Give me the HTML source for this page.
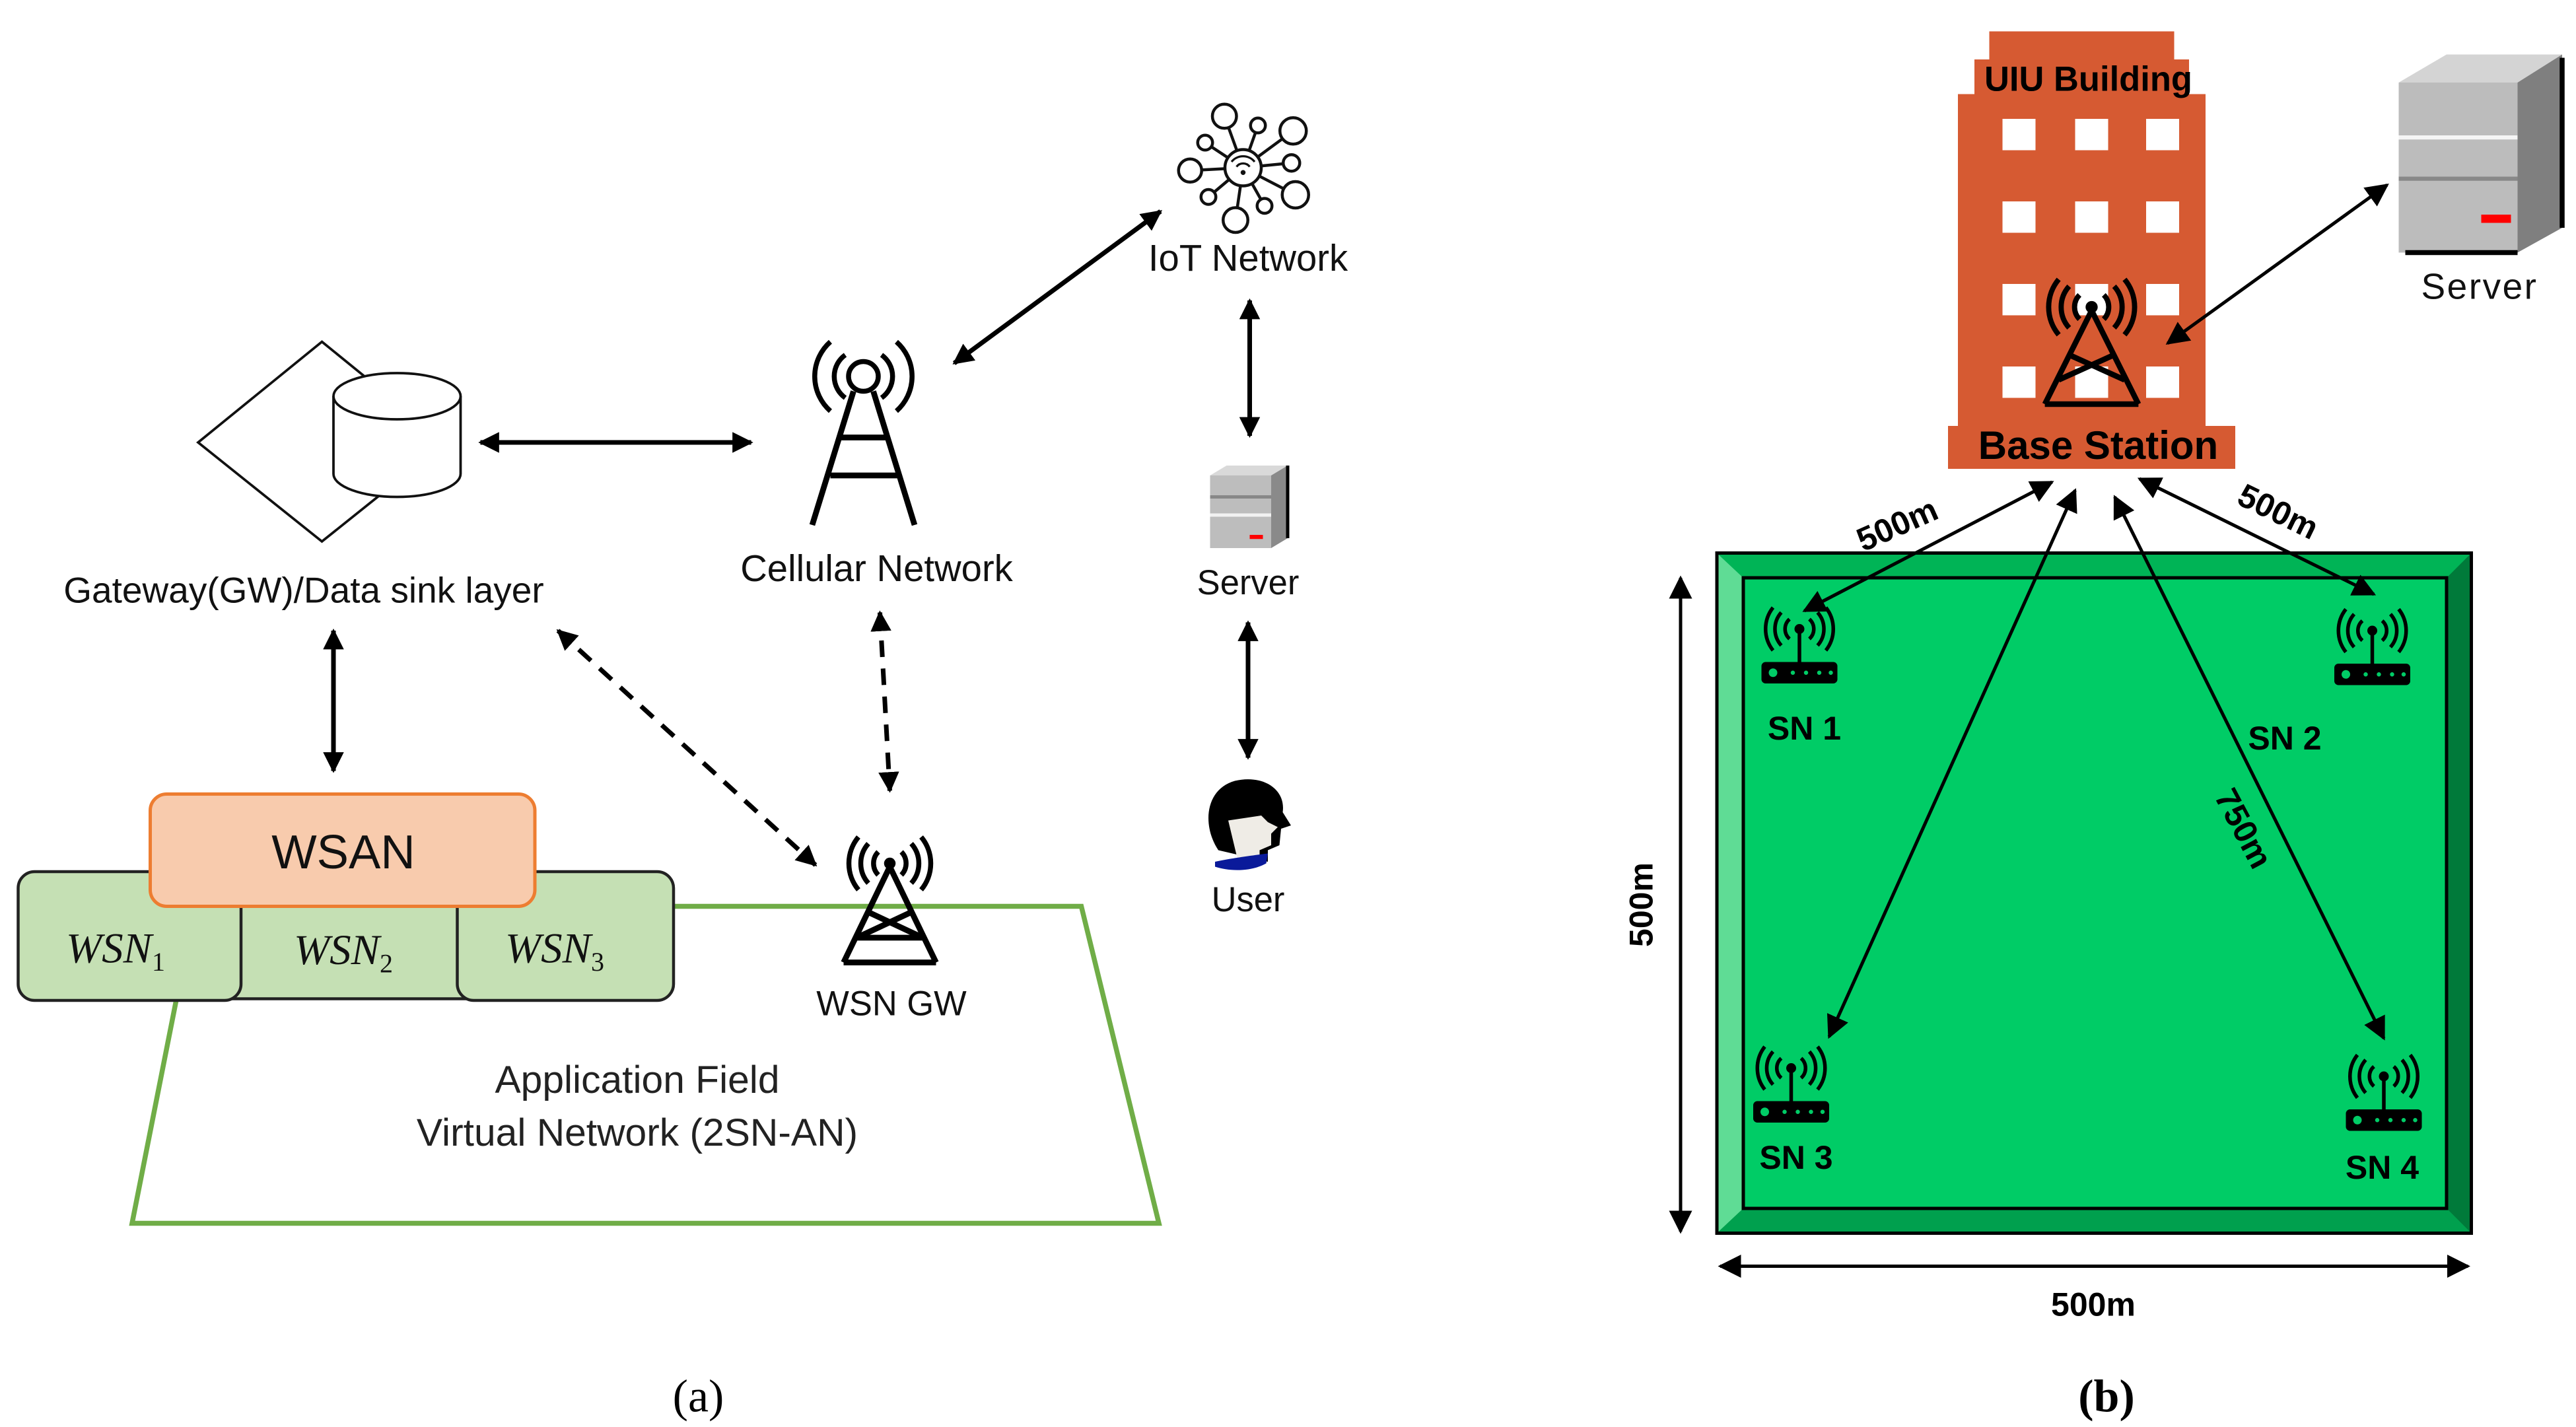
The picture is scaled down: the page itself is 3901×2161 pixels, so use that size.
<!DOCTYPE html>
<html><head><meta charset="utf-8"><style>
html,body{margin:0;padding:0;background:#fff}
svg{display:block}
text{font-family:"Liberation Sans",sans-serif}
</style></head><body>
<svg width="3901" height="2161" viewBox="0 0 1560.4 864.4" xmlns="http://www.w3.org/2000/svg">
<defs>
<marker id="ah" viewBox="0 0 10 10" refX="9" refY="5" markerWidth="4.5" markerHeight="4.5" orient="auto-start-reverse" markerUnits="strokeWidth"><path d="M0,0 L10,5 L0,10 z" fill="#000"/></marker>
<marker id="ah2" viewBox="0 0 10 10" refX="9" refY="5" markerWidth="7" markerHeight="7" orient="auto-start-reverse" markerUnits="strokeWidth"><path d="M0,0 L10,5 L0,10 z" fill="#000"/></marker>
<g id="router">
<path d="M-6,-6 A8,8 0 0 0 -6,6 M6,-6 A8,8 0 0 1 6,6" fill="none" stroke="#000" stroke-width="2.2"/>
<path d="M-11,-10 A15,15 0 0 0 -11,10 M11,-10 A15,15 0 0 1 11,10" fill="none" stroke="#000" stroke-width="2.2"/>
<path d="M-16,-13 A21,21 0 0 0 -16,13 M16,-13 A21,21 0 0 1 16,13" fill="none" stroke="#000" stroke-width="2.2"/>
<circle cx="0" cy="0" r="3" fill="#000"/>
<line x1="0" y1="0" x2="0" y2="20" stroke="#000" stroke-width="2.2"/>
<rect x="-23" y="20" width="46" height="13" rx="2.5" fill="#000"/>
<circle cx="-16" cy="26.5" r="2.6" fill="#00cc66"/>
<circle cx="-4" cy="26.5" r="1.3" fill="#00cc66"/><circle cx="4" cy="26.5" r="1.3" fill="#00cc66"/><circle cx="12" cy="26.5" r="1.3" fill="#00cc66"/><circle cx="19" cy="26.5" r="1.3" fill="#00cc66"/>
</g>
<g id="tower">
<path d="M-7,-7 A10,10 0 0 0 -7,7 M7,-7 A10,10 0 0 1 7,7" fill="none" stroke="#000" stroke-width="3"/>
<path d="M-13,-12 A18,18 0 0 0 -13,12 M13,-12 A18,18 0 0 1 13,12" fill="none" stroke="#000" stroke-width="3"/>
<path d="M-19,-16 A25,25 0 0 0 -19,16 M19,-16 A25,25 0 0 1 19,16" fill="none" stroke="#000" stroke-width="3"/>
<circle cx="0" cy="0" r="3.5" fill="#000"/>
<path d="M0,2 L-28,60 M0,2 L28,60 M-12,30 L20,45 M12,30 L-20,45 M-20,45 L20,45 M-28,60 L28,60" fill="none" stroke="#000" stroke-width="3.5"/>
</g>
</defs>

<!-- ============ (a) ============ -->
<polygon points="118,549 655,549 702,741 80,741" fill="#fff" stroke="#70ad47" stroke-width="3"/>
<text x="386" y="662" font-size="23.5" text-anchor="middle" fill="#222">Application Field</text>
<text x="386" y="694" font-size="23.5" text-anchor="middle" fill="#222">Virtual Network (2SN-AN)</text>

<rect x="120" y="528" width="180" height="77" rx="10" fill="#c5e0b4" stroke="#222" stroke-width="1.8"/>
<rect x="11" y="528" width="135" height="78" rx="10" fill="#c5e0b4" stroke="#222" stroke-width="1.8"/>
<rect x="277" y="528" width="131" height="78" rx="10" fill="#c5e0b4" stroke="#222" stroke-width="1.8"/>
<rect x="91" y="481" width="233" height="68" rx="10" fill="#f8cbad" stroke="#ed7d31" stroke-width="2"/>
<text x="208" y="526" font-size="29" text-anchor="middle" fill="#111">WSAN</text>
<text x="40" y="583" font-size="26" font-style="italic" fill="#111" style="font-family:'Liberation Serif',serif">WSN<tspan font-size="16" dy="5" font-style="normal">1</tspan></text>
<text x="178" y="584" font-size="26" font-style="italic" fill="#111" style="font-family:'Liberation Serif',serif">WSN<tspan font-size="16" dy="5" font-style="normal">2</tspan></text>
<text x="306" y="583" font-size="26" font-style="italic" fill="#111" style="font-family:'Liberation Serif',serif">WSN<tspan font-size="16" dy="5" font-style="normal">3</tspan></text>

<polygon points="195,207 270,268 195,328 120,268" fill="#fff" stroke="#111" stroke-width="1.5"/>
<path d="M202,240 L202,287 A38.5,14 0 0 0 279,287 L279,240" fill="#fff" stroke="#111" stroke-width="1.5"/>
<ellipse cx="240.5" cy="240" rx="38.5" ry="14" fill="#fff" stroke="#111" stroke-width="1.5"/>
<text x="184" y="365" font-size="22" text-anchor="middle" fill="#111">Gateway(GW)/Data sink layer</text>

<g stroke="#000" fill="none" stroke-width="3">
<circle cx="523" cy="228" r="9"/>
<path d="M512,215 A16,16 0 0 0 512,241 M534,215 A16,16 0 0 1 534,241"/>
<path d="M503,207 A28,28 0 0 0 503,249 M543,207 A28,28 0 0 1 543,249"/>
<path d="M517,237 L492,318 M529,237 L554,318 M508,265 L538,265 M503,288 L544,288" stroke-width="3.5"/>
</g>
<text x="531" y="352" font-size="22.5" text-anchor="middle" fill="#111">Cellular Network</text>

<g stroke="#111" stroke-width="1.8" fill="#fff">
<line x1="753" y1="101.6" x2="741.7" y2="70.4"/><line x1="753" y1="101.6" x2="762" y2="76"/>
<line x1="753" y1="101.6" x2="783.3" y2="79.3"/><line x1="753" y1="101.6" x2="730" y2="86.4"/>
<line x1="753" y1="101.6" x2="720.9" y2="103.3"/><line x1="753" y1="101.6" x2="782.3" y2="98.7"/>
<line x1="753" y1="101.6" x2="784.7" y2="118"/><line x1="753" y1="101.6" x2="732" y2="119.3"/>
<line x1="753" y1="101.6" x2="766" y2="124.7"/><line x1="753" y1="101.6" x2="748.4" y2="133.3"/>
<circle cx="753" cy="101.6" r="11"/>
<circle cx="741.7" cy="70.4" r="7.3"/><circle cx="762" cy="76" r="4.5"/><circle cx="783.3" cy="79.3" r="8"/>
<circle cx="730" cy="86.4" r="4.5"/><circle cx="720.9" cy="103.3" r="7"/><circle cx="782.3" cy="98.7" r="5"/>
<circle cx="784.7" cy="118" r="8"/><circle cx="732" cy="119.3" r="4.5"/><circle cx="766" cy="124.7" r="4.5"/>
<circle cx="748.4" cy="133.3" r="7.5"/>
</g>
<path d="M746,98 A9,9 0 0 1 760,98 M749,101 A5,5 0 0 1 757,101" stroke="#111" stroke-width="1.3" fill="none"/>
<circle cx="753" cy="104.5" r="1.5" fill="#111"/>
<text x="756" y="164" font-size="22.5" text-anchor="middle" fill="#111">IoT Network</text>

<polygon points="733,288 743,282 780,282 770,288" fill="#d9d9d9"/>
<rect x="733" y="288" width="37" height="44" fill="#bdbdbd"/>
<polygon points="770,288 780,282 780,326 770,332" fill="#8a8a8a"/>
<line x1="780" y1="282" x2="780" y2="326" stroke="#000" stroke-width="2"/>
<rect x="733" y="300" width="37" height="2" fill="#888"/>
<rect x="733" y="311" width="37" height="2" fill="#f2f2f2"/>
<rect x="757" y="324" width="8" height="2.5" fill="#f00"/>
<text x="756" y="360" font-size="21" text-anchor="middle" fill="#111">Server</text>

<path d="M738,515 C728,500 730,478 748,473 C765,469 779,478 777,492 L782,500 L776,502 L775,512 L768,515 L768,522 Z" fill="#000"/>
<path d="M744,497 L764,494 L768,498 L774,501 L770,505 L770,512 L763,515 L763,520 L750,522 Z" fill="#efece6"/>
<path d="M736,522 C745,520 760,518 768,517 L767,523 C758,528 745,528 736,525 Z" fill="#0a1a9a"/>
<text x="756" y="552" font-size="21" text-anchor="middle" fill="#111">User</text>

<use href="#tower" x="539" y="523"/>
<text x="540" y="615" font-size="21" text-anchor="middle" fill="#111">WSN GW</text>

<g stroke="#000" stroke-width="2.8" fill="none" marker-start="url(#ah)" marker-end="url(#ah)">
<line x1="291" y1="268" x2="455" y2="268"/>
<line x1="578" y1="220" x2="703" y2="128"/>
<line x1="757" y1="182" x2="757" y2="264"/>
<line x1="756" y1="377" x2="756" y2="459"/>
<line x1="202" y1="382" x2="202" y2="467"/>
<line x1="338" y1="382" x2="494" y2="524" stroke-dasharray="10,7"/>
<line x1="533" y1="371" x2="539" y2="479" stroke-dasharray="10,7"/>
</g>
<text x="423" y="855" font-size="28" text-anchor="middle" style="font-family:'Liberation Serif',serif">(a)</text>

<!-- ============ (b) ============ -->
<g fill="#d65a32">
<rect x="1205" y="19" width="112" height="20"/>
<rect x="1196" y="36" width="130" height="24"/>
<rect x="1186" y="57" width="150" height="205"/>
<rect x="1180" y="258" width="174" height="26"/>
</g>
<g fill="#fff">
<rect x="1213" y="72" width="20" height="19"/><rect x="1257" y="72" width="20" height="19"/><rect x="1300" y="72" width="20" height="19"/>
<rect x="1213" y="122" width="20" height="19"/><rect x="1257" y="122" width="20" height="19"/><rect x="1300" y="122" width="20" height="19"/>
<rect x="1213" y="172" width="20" height="19"/><rect x="1257" y="172" width="20" height="19"/><rect x="1300" y="172" width="20" height="19"/>
<rect x="1213" y="222" width="20" height="19"/><rect x="1257" y="222" width="20" height="19"/><rect x="1300" y="222" width="20" height="19"/>
</g>
<g transform="translate(1267,186) scale(1.05)">
<path d="M-7,-7 A10,10 0 0 0 -7,7 M7,-7 A10,10 0 0 1 7,7 M-13,-12 A18,18 0 0 0 -13,12 M13,-12 A18,18 0 0 1 13,12 M-19,-16 A25,25 0 0 0 -19,16 M19,-16 A25,25 0 0 1 19,16" fill="none" stroke="#000" stroke-width="3"/>
<circle r="3.5" fill="#000"/>
<path d="M0,2 L-27,56 M0,2 L27,56 M-12,28 L19,42 M12,28 L-19,42 M-27,56 L27,56" fill="none" stroke="#000" stroke-width="3.2"/>
</g>
<text x="1265" y="55" font-size="21" font-weight="bold" text-anchor="middle" fill="#000">UIU Building</text>
<text x="1271" y="278" font-size="24" font-weight="bold" text-anchor="middle" fill="#000">Base Station</text>

<polygon points="1453,50 1482,33 1552,33 1525,50" fill="#d4d4d4"/>
<rect x="1453" y="50" width="72" height="103" fill="#bcbcbc"/>
<polygon points="1525,50 1552,33 1552,138 1525,153" fill="#7f7f7f"/>
<line x1="1552" y1="35" x2="1552" y2="138" stroke="#000" stroke-width="3"/>
<line x1="1457" y1="153" x2="1525" y2="153" stroke="#000" stroke-width="3"/>
<rect x="1453" y="82" width="72" height="2.5" fill="#f5f5f5"/>
<rect x="1453" y="107" width="72" height="2.5" fill="#888"/>
<rect x="1503" y="130" width="18" height="5" fill="#f00"/>
<text x="1502" y="181" font-size="22" text-anchor="middle" fill="#111" letter-spacing="1">Server</text>

<rect x="1040" y="335" width="457" height="412" fill="#00a650" stroke="#000" stroke-width="2"/>
<polygon points="1040,335 1056,350 1056,732 1040,747" fill="#5fdc95"/>
<polygon points="1497,335 1482,350 1482,732 1497,747" fill="#007a3a"/>
<polygon points="1040,335 1497,335 1482,350 1056,350" fill="#00b456"/>
<polygon points="1040,747 1497,747 1482,732 1056,732" fill="#00a04e"/>
<rect x="1056" y="350" width="426" height="382" fill="#00cc66" stroke="#000" stroke-width="2"/>
<rect x="1040" y="335" width="457" height="412" fill="none" stroke="#000" stroke-width="2"/>

<use href="#router" x="1090" y="381"/>
<use href="#router" x="1437" y="382"/>
<use href="#router" x="1085" y="647"/>
<use href="#router" x="1444" y="652"/>
<g font-size="20" font-weight="bold" fill="#000" text-anchor="middle">
<text x="1093" y="448">SN 1</text>
<text x="1384" y="454">SN 2</text>
<text x="1088" y="708">SN 3</text>
<text x="1443" y="714">SN 4</text>
</g>

<g stroke="#000" stroke-width="2" fill="none" marker-start="url(#ah2)" marker-end="url(#ah2)">
<line x1="1313" y1="208" x2="1446" y2="112"/>
<line x1="1243" y1="292" x2="1093" y2="370"/>
<line x1="1296" y1="290" x2="1438" y2="360"/>
<line x1="1257" y1="297" x2="1108" y2="628"/>
<line x1="1281" y1="301" x2="1444" y2="629"/>
<line x1="1018" y1="350" x2="1018" y2="746"/>
<line x1="1042" y1="767" x2="1495" y2="767"/>
</g>
<g font-size="20" font-weight="bold" fill="#000" text-anchor="middle">
<text transform="translate(1152,324) rotate(-24)">500m</text>
<text transform="translate(1377,316) rotate(26)">500m</text>
<text transform="translate(1353,505) rotate(62)">750m</text>
<text transform="translate(1001,548) rotate(-90)">500m</text>
<text x="1268" y="797">500m</text>
</g>
<text x="1276" y="855" font-size="28" font-weight="bold" text-anchor="middle" style="font-family:'Liberation Serif',serif">(b)</text>
</svg>
</body></html>
